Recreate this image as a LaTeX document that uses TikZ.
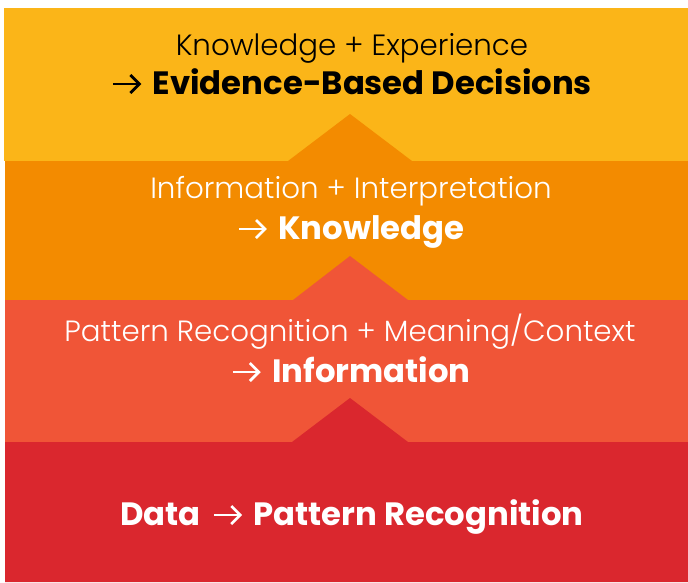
\documentclass[tikz,border=0pt]{standalone}
\usepackage{fontspec}
\setmainfont{Poppins}
\newfontfamily\lightfont{Poppins Light}
\definecolor{cYellow}{RGB}{251,181,24}
\definecolor{cOrange}{RGB}{243,139,0}
\definecolor{cRedOrange}{RGB}{240,85,55}
\definecolor{cRed}{RGB}{218,39,46}
\newcommand{\arr}{\tikz[x=1pt,y=1pt,baseline=0pt]{\draw[line width=2.8pt, line cap=butt] (0,10) -- (26,10); \draw[line width=2.8pt, line join=miter, line cap=butt] (17,1) -- (26,10) -- (17,19);}}
\newcommand{\arrgap}{\hspace{12pt}}
\tikzset{
  lighttxt/.style={anchor=base, inner sep=0pt, font=\fontsize{29.3}{34}\selectfont\lightfont},
  boldtxt/.style={anchor=base, inner sep=0pt, font=\fontsize{32.3}{38}\selectfont\bfseries},
}
\begin{document}
\begin{tikzpicture}[x=1pt,y=-1pt]
\useasboundingbox (0,0) rectangle (688,582);
\fill[white] (0,0) rectangle (688,582);
\fill[cYellow] (4,8) rectangle (688,161);
\fill[cOrange] (5,161) -- (288,161) -- (350,114) -- (412,161) -- (688,161) -- (688,300) -- (5,300) -- cycle;
\fill[cRedOrange] (5,300) -- (293,300) -- (350,256) -- (408,300) -- (688,300) -- (688,442) -- (5,442) -- cycle;
\fill[cRed] (5,442) -- (292,442) -- (350,398) -- (408,442) -- (688,442) -- (688,582) -- (5,582) -- cycle;
\node[lighttxt, text=black] (t1a) at (352,55) {Knowledge + Experience};
\node[boldtxt, text=black] (t1b) at (352,94) {\arr\arrgap Evidence-Based Decisions};
\node[lighttxt, text=white] (t2a) at (351,198) {Information + Interpretation};
\node[boldtxt, text=white] (t2b) at (351,239) {\arr\arrgap Knowledge};
\node[lighttxt, text=white] (t3a) at (350,341) {Pattern Recognition + Meaning/Context};
\node[boldtxt, text=white] (t3b) at (351,382) {\arr\arrgap Information};
\node[boldtxt, text=white] (t4) at (352,525) {Data\arrgap\arr\arrgap Pattern Recognition};
\end{tikzpicture}
\end{document}
